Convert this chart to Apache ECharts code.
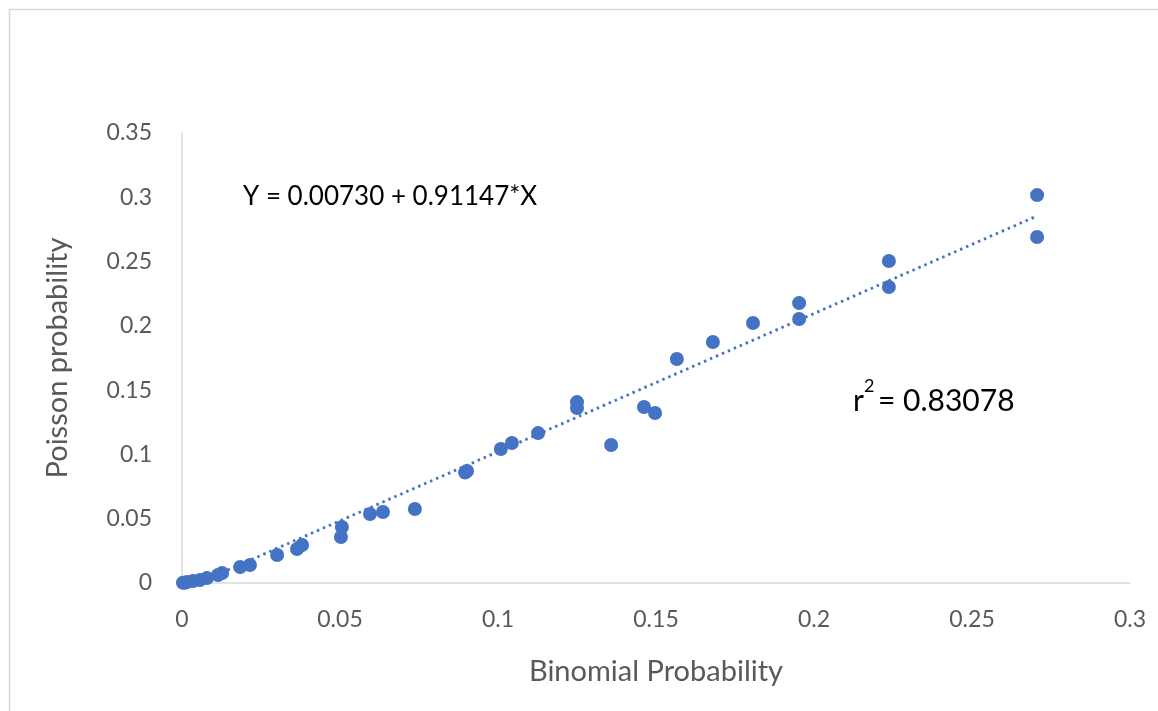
<!DOCTYPE html>
<html lang="en" style="height: 100%">
<head>
<meta charset="utf-8">
<title>Binomial vs Poisson probability</title>
</head>
<body style="height: 100%; margin: 0; background: #fff">
<div id="container" style="width: 1158px; height: 711px"></div>

<script type="text/javascript" src="https://cdn.jsdelivr.net/npm/echarts@6/dist/echarts.min.js"></script>

<script type="text/javascript">
// Binomial probability (x)
var binomial = [
  0.2706, 0.2706, 0.2237, 0.2237, 0.1953, 0.1953, 0.1807, 0.1680, 0.1566,
  0.1250, 0.1250, 0.1462, 0.1497, 0.1358, 0.1127, 0.1044, 0.1009, 0.0902,
  0.0896, 0.0737, 0.0636, 0.0595, 0.0506, 0.0503, 0.0380, 0.0364, 0.0301,
  0.0215, 0.0184, 0.0127, 0.0114, 0.0079, 0.0057, 0.0035, 0.0016, 0.0003,
  0.0009
];
// Poisson probability (y)
var poisson = [
  0.3017, 0.2691, 0.2504, 0.2302, 0.2177, 0.2053, 0.2022, 0.1874, 0.1742,
  0.1407, 0.1361, 0.1369, 0.1322, 0.1073, 0.1166, 0.1089, 0.1042, 0.0871,
  0.0860, 0.0575, 0.0552, 0.0537, 0.0435, 0.0358, 0.0295, 0.0264, 0.0218,
  0.0140, 0.0124, 0.0078, 0.0062, 0.0039, 0.0023, 0.0016, 0.0008, 0.0002,
  0.0001
];
// trend line ends as drawn in the picture
var trendX = [0.005, 0.2706];
var trendY = [0.0, 0.2855];

var equationText = 'Y = 0.00730 + 0.91147*X';
var r2Value = '0.83078';

var points = binomial.map(function (x, i) { return [x, poisson[i]]; });
var trend = trendX.map(function (x, i) { return [x, trendY[i]]; });

var font = 'Lato, "Open Sans", sans-serif';
var blue = '#4472C4';

var myChart = echarts.init(document.getElementById('container'));

function tickFmt(v) { return String(+v.toFixed(2)); }

var option = {
  animation: false,
  backgroundColor: '#fff',
  grid: { left: 182, right: 28, top: 133, bottom: 128 },
  xAxis: {
    type: 'value',
    min: 0, max: 0.3, interval: 0.05,
    name: 'Binomial Probability',
    nameLocation: 'middle',
    nameGap: 74,
    nameTextStyle: { fontFamily: font, fontSize: 29, color: '#595959' },
    axisLine: { show: true, lineStyle: { color: '#d9d9d9', width: 1.5 } },
    axisTick: { show: false },
    splitLine: { show: false },
    axisLabel: { margin: 25, fontFamily: font, fontSize: 23, color: '#595959', formatter: tickFmt }
  },
  yAxis: {
    type: 'value',
    min: 0, max: 0.35, interval: 0.05,
    name: 'Poisson probability',
    nameLocation: 'middle',
    nameGap: 110,
    nameTextStyle: { fontFamily: font, fontSize: 29, color: '#595959' },
    axisLine: { show: true, lineStyle: { color: '#d9d9d9', width: 1.5 } },
    axisTick: { show: false },
    splitLine: { show: false },
    axisLabel: { margin: 30, fontFamily: font, fontSize: 23, color: '#595959', formatter: tickFmt }
  },
  series: [
    {
      type: 'line',
      data: trend,
      symbol: 'none',
      lineStyle: { color: blue, width: 2.8, type: [2.5, 4] },
      z: 1
    },
    {
      type: 'scatter',
      data: points,
      symbol: 'circle',
      symbolSize: 14,
      itemStyle: { color: blue, opacity: 1 },
      z: 2
    }
  ],
  graphic: [
    {
      type: 'rect',
      left: 7, top: 7,
      shape: { width: 1200, height: 800 },
      style: { fill: 'none', stroke: '#d9d9d9', lineWidth: 1.5 },
      silent: true
    },
    {
      type: 'text',
      left: 243, top: 184,
      style: { text: equationText, font: '26px ' + font, fill: '#000' }
    },
    {
      type: 'text',
      left: 853, top: 386,
      style: { text: 'r', font: '30px ' + font, fill: '#000' }
    },
    {
      type: 'text',
      left: 864, top: 377,
      style: { text: '2', font: '18px ' + font, fill: '#000' }
    },
    {
      type: 'text',
      left: 878, top: 386,
      style: { text: '= ' + r2Value, font: '30px ' + font, fill: '#000' }
    }
  ]
};

myChart.setOption(option);
window.addEventListener('resize', myChart.resize);
</script>
</body>
</html>
